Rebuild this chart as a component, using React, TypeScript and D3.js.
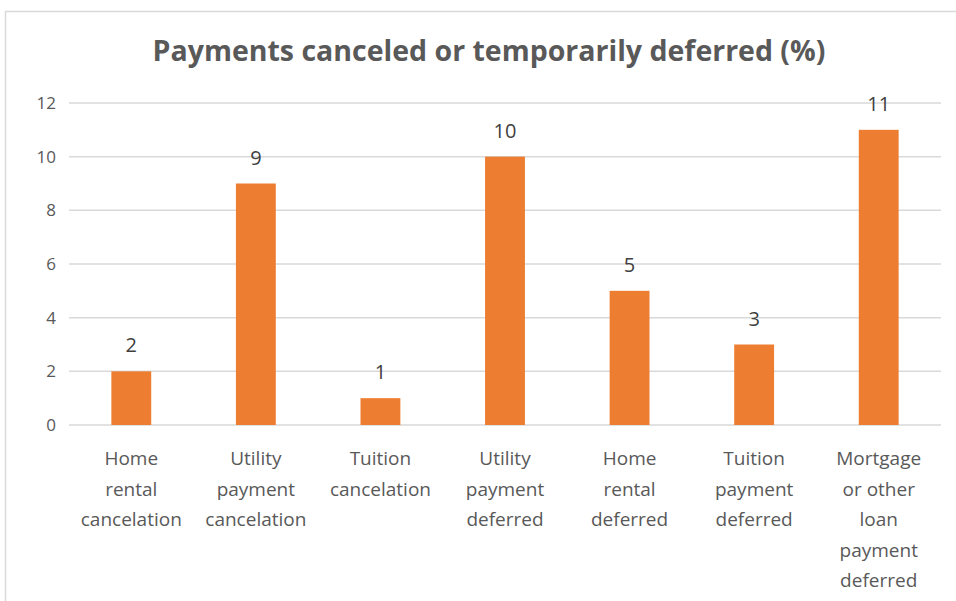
import React, { useEffect, useRef } from 'react';
import * as d3 from 'd3';

// data
const categories: string[][] = [
  ['Home', 'rental', 'cancelation'],
  ['Utility', 'payment', 'cancelation'],
  ['Tuition', 'cancelation'],
  ['Utility', 'payment', 'deferred'],
  ['Home', 'rental', 'deferred'],
  ['Tuition', 'payment', 'deferred'],
  ['Mortgage', 'or other', 'loan', 'payment', 'deferred'],
];
const values: number[] = [2, 9, 1, 10, 5, 3, 11];
const yTicks: number[] = [0, 2, 4, 6, 8, 10, 12];

const W = 956;
const H = 601;
const FONT = "'Open Sans', 'Noto Sans', sans-serif";

const App = () => {
  const svgRef = useRef<SVGSVGElement | null>(null);

  useEffect(() => {
    const svg = d3.select(svgRef.current);
    svg.selectAll('*').remove();

    const margin = { top: 103, right: 15, bottom: 176, left: 69 };
    const innerW = W - margin.left - margin.right;
    const innerH = H - margin.top - margin.bottom;

    // outer frame (only top and left edges visible in the crop)
    svg.append('path')
      .attr('d', `M5.5,${H} L5.5,11.5 L${W},11.5`)
      .attr('fill', 'none')
      .attr('stroke', '#d9d9d9')
      .attr('stroke-width', 1.5);

    svg.append('text')
      .attr('x', 489)
      .attr('y', 61)
      .attr('text-anchor', 'middle')
      .attr('font-family', FONT)
      .attr('font-size', 28.5)
      .attr('font-weight', 'bold')
      .attr('fill', '#595959')
      .text('Payments canceled or temporarily deferred (%)');

    const g = svg.append('g').attr('transform', `translate(${margin.left},${margin.top})`);

    const x = d3.scaleBand<number>()
      .domain(values.map((_, i) => i))
      .range([0, innerW])
      .paddingInner(0.68)
      .paddingOuter(0.34);

    const y = d3.scaleLinear().domain([0, 12]).range([innerH, 0]);

    // gridlines
    g.selectAll('.grid')
      .data(yTicks)
      .enter()
      .append('line')
      .attr('x1', 0)
      .attr('x2', innerW)
      .attr('y1', d => y(d))
      .attr('y2', d => y(d))
      .attr('stroke', '#d9d9d9')
      .attr('stroke-width', 1.5);

    // y tick labels
    g.selectAll('.ytick')
      .data(yTicks)
      .enter()
      .append('text')
      .attr('x', -13)
      .attr('y', d => y(d))
      .attr('dy', '0.35em')
      .attr('text-anchor', 'end')
      .attr('font-family', FONT)
      .attr('font-size', 17)
      .attr('fill', '#595959')
      .text(d => d);

    // bars
    g.selectAll('.bar')
      .data(values)
      .enter()
      .append('rect')
      .attr('x', (_, i) => x(i)!)
      .attr('y', d => y(d))
      .attr('width', x.bandwidth())
      .attr('height', d => innerH - y(d))
      .attr('fill', '#ed7d31');

    // value labels
    g.selectAll('.val')
      .data(values)
      .enter()
      .append('text')
      .attr('x', (_, i) => x(i)! + x.bandwidth() / 2)
      .attr('y', d => y(d) - 19)
      .attr('text-anchor', 'middle')
      .attr('font-family', FONT)
      .attr('font-size', 20)
      .attr('fill', '#404040')
      .text(d => d);

    // category labels, pre-wrapped
    categories.forEach((lines, i) => {
      const cx = x(i)! + x.bandwidth() / 2;
      const t = g.append('text')
        .attr('text-anchor', 'middle')
        .attr('font-family', FONT)
        .attr('font-size', 19)
        .attr('fill', '#595959');
      lines.forEach((ln, j) => {
        t.append('tspan')
          .attr('x', cx)
          .attr('y', innerH + 40 + j * 30.5)
          .text(ln);
      });
    });
  }, []);

  return (
    <svg ref={svgRef} width={W} height={H} style={{ position: 'absolute', left: 0, top: 0, background: '#fff' }} />
  );
};

export default App;
